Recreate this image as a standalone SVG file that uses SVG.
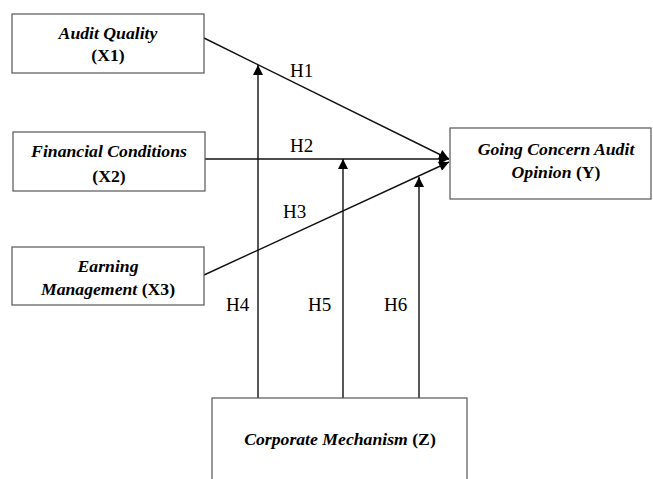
<svg xmlns="http://www.w3.org/2000/svg" width="653" height="479" viewBox="0 0 653 479">
<defs>
<marker id="arr" viewBox="0 0 10 10" refX="10" refY="5" markerWidth="11" markerHeight="10" markerUnits="userSpaceOnUse" orient="auto">
<path d="M0,0 L10,5 L0,10 z" fill="#000"/>
</marker>
</defs>
<style>
text{font-family:'Liberation Serif','DejaVu Serif','Times New Roman',serif}
.box{fill:#fff;stroke:#555;stroke-width:1.2}
.t{font-size:17.7px;font-weight:bold;text-anchor:middle;fill:#000}
.i{font-style:italic}
.ln{stroke:#111;stroke-width:1.4;fill:none;marker-end:url(#arr)}
.h{font-size:19px;fill:#000}
</style>
<rect width="653" height="479" fill="#fff"/>
<g id="connectors">
<line class="ln" x1="204" y1="38" x2="449" y2="159"/>
<line class="ln" x1="205" y1="159" x2="449" y2="159"/>
<line class="ln" x1="204" y1="275" x2="449" y2="162"/>
<line class="ln" x1="258" y1="398" x2="258" y2="65"/>
<line class="ln" x1="343" y1="398" x2="343" y2="159"/>
<line class="ln" x1="419" y1="398" x2="419" y2="177"/>
<text class="h" x="290" y="77">H1</text>
<text class="h" x="290" y="152">H2</text>
<text class="h" x="283" y="218">H3</text>
<text class="h" x="226" y="311">H4</text>
<text class="h" x="308" y="311">H5</text>
<text class="h" x="384" y="311">H6</text>
</g>
<g id="x1">
<rect class="box" x="12" y="14" width="192" height="59"/>
<text class="t" x="108" y="39"><tspan class="i">Audit Quality</tspan></text>
<text class="t" x="108" y="61">(X1)</text>
</g>
<g id="x2">
<rect class="box" x="13" y="132" width="192" height="59"/>
<text class="t" x="109" y="157"><tspan class="i">Financial Conditions</tspan></text>
<text class="t" x="109" y="182">(X2)</text>
</g>
<g id="x3">
<rect class="box" x="12" y="247" width="192" height="58"/>
<text class="t" x="108" y="272"><tspan class="i">Earning</tspan></text>
<text class="t" x="108" y="295"><tspan class="i">Management</tspan> (X3)</text>
</g>
<g id="y">
<rect class="box" x="450" y="128" width="201" height="71"/>
<text class="t" x="556" y="155"><tspan class="i">Going Concern Audit</tspan></text>
<text class="t" x="556" y="178"><tspan class="i">Opinion</tspan> (Y)</text>
</g>
<g id="z">
<rect class="box" x="212" y="398" width="255" height="90"/>
<text class="t" x="340" y="445"><tspan class="i">Corporate Mechanism</tspan> (Z)</text>
</g>
</svg>
